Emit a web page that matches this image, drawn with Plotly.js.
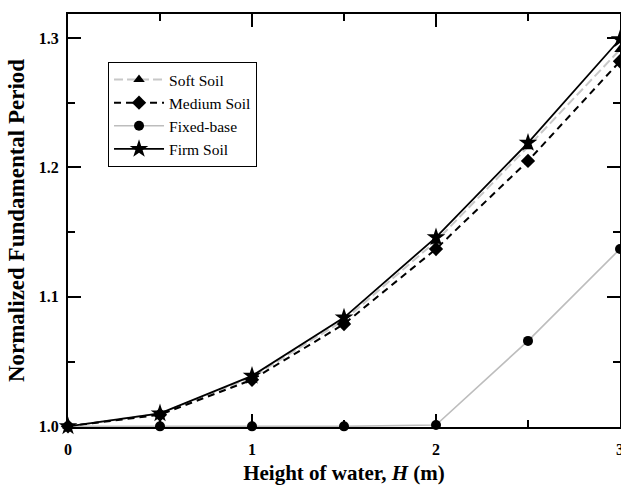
<!DOCTYPE html>
<html>
<head>
<meta charset="utf-8">
<script src="https://cdn.plot.ly/plotly-3.0.1.min.js"></script>
<style>html,body{margin:0;padding:0;background:#fff;}#chart{width:621px;height:486px;}</style>
</head>
<body>
<div id="chart"></div>
<script>
const waterHeight = [0, 0.5, 1, 1.5, 2, 2.5, 3];
const softSoil   = [1.000, 1.010, 1.038, 1.082, 1.143, 1.216, 1.291];
const mediumSoil = [1.000, 1.009, 1.036, 1.079, 1.137, 1.205, 1.282];
const fixedBase  = [1.000, 1.000, 1.000, 1.000, 1.001, 1.066, 1.137];
const firmSoil   = [1.000, 1.010, 1.039, 1.084, 1.146, 1.219, 1.299];

const serif = '"Liberation Serif", "Times New Roman", serif';

const traces = [
  {x: waterHeight, y: softSoil, name: 'Soft Soil', mode: 'lines+markers',
   line: {color: '#c8c8c8', width: 2, dash: '9px,4px'},
   marker: {symbol: 'triangle-up', size: 10, color: '#000'}, cliponaxis: false},
  {x: waterHeight, y: mediumSoil, name: 'Medium Soil', mode: 'lines+markers',
   line: {color: '#000', width: 2, dash: '7px,5px'},
   marker: {symbol: 'diamond', size: 11, color: '#000'}, cliponaxis: false},
  {x: waterHeight, y: fixedBase, name: 'Fixed-base', mode: 'lines+markers',
   line: {color: '#bdbdbd', width: 1.6},
   marker: {symbol: 'circle', size: 10, color: '#000'}, cliponaxis: false},
  {x: waterHeight, y: firmSoil, name: 'Firm Soil', mode: 'lines+markers',
   line: {color: '#000', width: 1.8},
   marker: {symbol: 'star', size: 14, color: '#000'}, cliponaxis: false}
];

const layout = {
  width: 621, height: 486,
  margin: {l: 68, r: 1, t: 14, b: 59},
  paper_bgcolor: '#fff', plot_bgcolor: '#fff',
  font: {family: serif, color: '#000'},
  showlegend: true,
  legend: {
    x: 0.0725, y: 0.884, xanchor: 'left', yanchor: 'top',
    bgcolor: '#fff', bordercolor: '#000', borderwidth: 1,
    font: {family: serif, size: 15.5, color: '#000'},
    itemwidth: 50, tracegroupgap: 0
  },
  xaxis: {
    range: [0, 3], dtick: 1, tick0: 0,
    showgrid: false, zeroline: false,
    showline: true, linecolor: '#000', linewidth: 2, mirror: 'allticks',
    ticks: 'inside', ticklen: 13, tickwidth: 2, tickcolor: '#000',
    minor: {dtick: 0.5, ticks: 'inside', ticklen: 7, tickwidth: 2, tickcolor: '#000'},
    tickfont: {family: serif, size: 16, color: '#000', weight: 'bold'},
    ticklabelstandoff: 7,
    ticklabeloverflow: 'allow',
    layer: 'below traces',
    title: {text: '<b>Height of water, <i>H</i> (m)</b>', font: {family: serif, size: 21, color: '#000'}, standoff: 8}
  },
  yaxis: {
    range: [0.9995, 1.3185], dtick: 0.1, tick0: 1.0, tickformat: '.1f',
    showgrid: false, zeroline: false,
    showline: true, linecolor: '#000', linewidth: 2, mirror: 'allticks',
    ticks: 'inside', ticklen: 13, tickwidth: 2, tickcolor: '#000',
    minor: {dtick: 0.05, ticks: 'inside', ticklen: 7, tickwidth: 2, tickcolor: '#000'},
    tickfont: {family: serif, size: 16, color: '#000', weight: 'bold'},
    ticklabelstandoff: 4,
    layer: 'below traces',
    title: {text: '<b>Normalized Fundamental Period</b>', font: {family: serif, size: 23, color: '#000'}, standoff: 8}
  }
};

Plotly.newPlot('chart', traces, layout, {displayModeBar: false, staticPlot: true});
</script>
</body>
</html>
